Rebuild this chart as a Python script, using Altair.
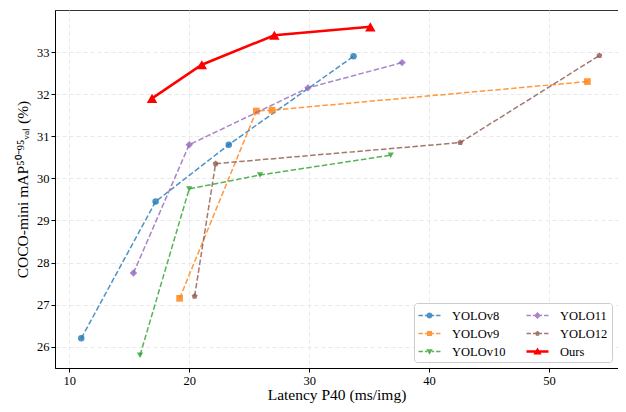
import math
import altair as alt
import pandas as pd

models = ["YOLOv8", "YOLOv9", "YOLOv10", "YOLO11", "YOLO12", "Ours"]
v8_lat = [11.0, 17.2, 23.3, 33.7]
v8_map = [26.2, 29.45, 30.8, 32.9]
v9_lat = [19.2, 25.6, 26.9, 53.2]
v9_map = [27.15, 31.6, 31.62, 32.3]
v10_lat = [15.9, 20.0, 25.9, 36.8]
v10_map = [25.8, 29.75, 30.08, 30.55]
y11_lat = [15.35, 20.0, 29.9, 37.75]
y11_map = [27.75, 30.8, 32.15, 32.75]
y12_lat = [20.45, 22.2, 42.6, 54.2]
y12_map = [27.2, 30.35, 30.85, 32.92]
ours_lat = [16.9, 21.05, 27.1, 35.1]
ours_map = [31.9, 32.7, 33.4, 33.6]

x_ticks = [10, 20, 30, 40, 50]
y_ticks = [26, 27, 28, 29, 30, 31, 32, 33]

series = {
    "YOLOv8": (v8_lat, v8_map),
    "YOLOv9": (v9_lat, v9_map),
    "YOLOv10": (v10_lat, v10_map),
    "YOLO11": (y11_lat, y11_map),
    "YOLO12": (y12_lat, y12_map),
    "Ours": (ours_lat, ours_map),
}
rows = []
for m, (xs, ys) in series.items():
    for i, (a, b) in enumerate(zip(xs, ys)):
        rows.append({"Model": m, "lat": a, "map": b, "idx": i})
df = pd.DataFrame(rows)

colors = {"YOLOv8": "#1f77b4", "YOLOv9": "#ff7f0e", "YOLOv10": "#2ca02c",
          "YOLO11": "#9467bd", "YOLO12": "#8c564b", "Ours": "#ff0000"}
# legend swatches drawn at the same 0.8 alpha as the plotted series
legend_colors = {"YOLOv8": "#4c92c3", "YOLOv9": "#ff993e", "YOLOv10": "#56b356",
                 "YOLO11": "#a985ca", "YOLO12": "#a3786f", "Ours": "#ff0000"}

pentagon = "M0,-1L0.951,-0.309L0.588,0.809L-0.588,0.809L-0.951,-0.309Z"
markers = {"YOLOv8": ("circle", 42), "YOLOv9": ("square", 45), "YOLOv10": ("triangle-down", 40),
           "YOLO11": ("diamond", 55), "YOLO12": (pentagon, 38), "Ours": ("triangle-up", 110)}

K = 22 / 17  # legend glyph drawn wider than its nominal symbol box


def poly(pts):
    return "M" + "L".join(f"{x * K:.3f},{y * K:.3f}" for x, y in pts) + "Z"


def rect(a, b, h):
    return poly([(a, -h), (b, -h), (b, h), (a, h)])


def dashed(marker_path):
    h = 0.065
    return rect(-1, -0.6, h) + rect(-0.42, -0.22, h) + marker_path + rect(0.22, 0.42, h) + rect(0.6, 1, h)


r = 0.27
leg_circle = poly([(r * math.cos(2 * math.pi * k / 20), r * math.sin(2 * math.pi * k / 20)) for k in range(20)])
leg_square = poly([(-0.23, -0.23), (0.23, -0.23), (0.23, 0.23), (-0.23, 0.23)])
leg_tdown = poly([(-0.3, -0.2), (0.3, -0.2), (0, 0.3)])
leg_diamond = poly([(0, -0.32), (0.32, 0), (0, 0.32), (-0.32, 0)])
leg_pent = poly([(0.24 * math.cos(math.radians(a)), 0.24 * math.sin(math.radians(a)))
                 for a in (-90, -18, 54, 126, 198)])
leg_tup = poly([(0, -0.36), (0.38, 0.28), (-0.38, 0.28)])
legend_paths = {
    "YOLOv8": dashed(leg_circle),
    "YOLOv9": dashed(leg_square),
    "YOLOv10": dashed(leg_tdown),
    "YOLO11": dashed(leg_diamond),
    "YOLO12": dashed(leg_pent),
    "Ours": rect(-1, 1, 0.11) + leg_tup,
}

FONT = "Liberation Serif"

xenc = alt.X("lat:Q", scale=alt.Scale(domain=[8.81, 55.75], nice=False, zero=False),
             axis=alt.Axis(values=x_ticks, title="Latency P40 (ms/img)"))
yenc = alt.Y("map:Q", scale=alt.Scale(domain=[25.495, 34.0], nice=False, zero=False),
             axis=alt.Axis(values=y_ticks, title="COCO-mini mAP⁵⁰⁻⁹⁵ᵥₐₗ (%)"))
# line/point colour scale (different domain order from the legend scales; no legend)
line_order = list(reversed(models))
color = alt.Color("Model:N", scale=alt.Scale(domain=line_order, range=[colors[m] for m in line_order]),
                  legend=None)

layers = []
for m in models:
    base = alt.Chart(df).transform_filter(alt.datum.Model == m)
    if m == "Ours":
        line = base.mark_line(strokeWidth=2.5, opacity=1.0)
        pt = base.mark_point(filled=True, opacity=1.0, shape=markers[m][0], size=markers[m][1])
    else:
        line = base.mark_line(strokeWidth=1.5, strokeDash=[5.5, 2.4], opacity=0.8)
        pt = base.mark_point(filled=True, opacity=0.8, shape=markers[m][0], size=markers[m][1])
    layers.append(line.encode(x=xenc, y=yenc, color=color, order="idx:Q"))
    layers.append(pt.encode(x=xenc, y=yenc, color=color))

leg = alt.Legend(title=None, orient="bottom-right", columns=2,
                 symbolSize=289, symbolStrokeWidth=0, symbolOpacity=1, symbolOffset=3,
                 labelFont=FONT, labelFontSize=12.5, labelColor="black",
                 labelOffset=14, columnPadding=20, rowPadding=3,
                 padding=4, offset=6,
                 strokeColor="#cccccc", fillColor="white", cornerRadius=3)

legend_layer = alt.Chart(df).mark_point(filled=True, opacity=0).encode(
    x=xenc, y=yenc,
    fill=alt.Fill("Model:N", scale=alt.Scale(domain=models,
                                             range=[legend_colors[m] for m in models]),
                  legend=leg),
    shape=alt.Shape("Model:N", scale=alt.Scale(domain=models,
                                               range=[legend_paths[m] for m in models]),
                    legend=leg),
)
layers.append(legend_layer)

chart = alt.layer(*layers).properties(
    width=563, height=358,
    autosize=alt.AutoSizeParams(type="none"),
    padding={"left": 47, "top": 2, "right": 0, "bottom": 36},
).configure(font=FONT).configure_view(stroke="#333333", strokeWidth=1).configure_axis(
    labelFont=FONT, titleFont=FONT, labelFontSize=12.5, titleFontSize=15.5,
    titleFontWeight="normal", labelColor="black", titleColor="black",
    domainColor="black", tickColor="black", tickSize=4, domainWidth=1,
    gridColor="#e3e3e3", gridDash=[4, 3], gridWidth=0.8,
).configure_axisY(titlePadding=6, labelPadding=2).configure_axisX(
    titlePadding=1, labelPadding=2
).configure_legend(labelFont=FONT, labelFontSize=12.5, labelColor="black")

chart.save("out.html", embed_options={"renderer": "svg", "actions": False})
